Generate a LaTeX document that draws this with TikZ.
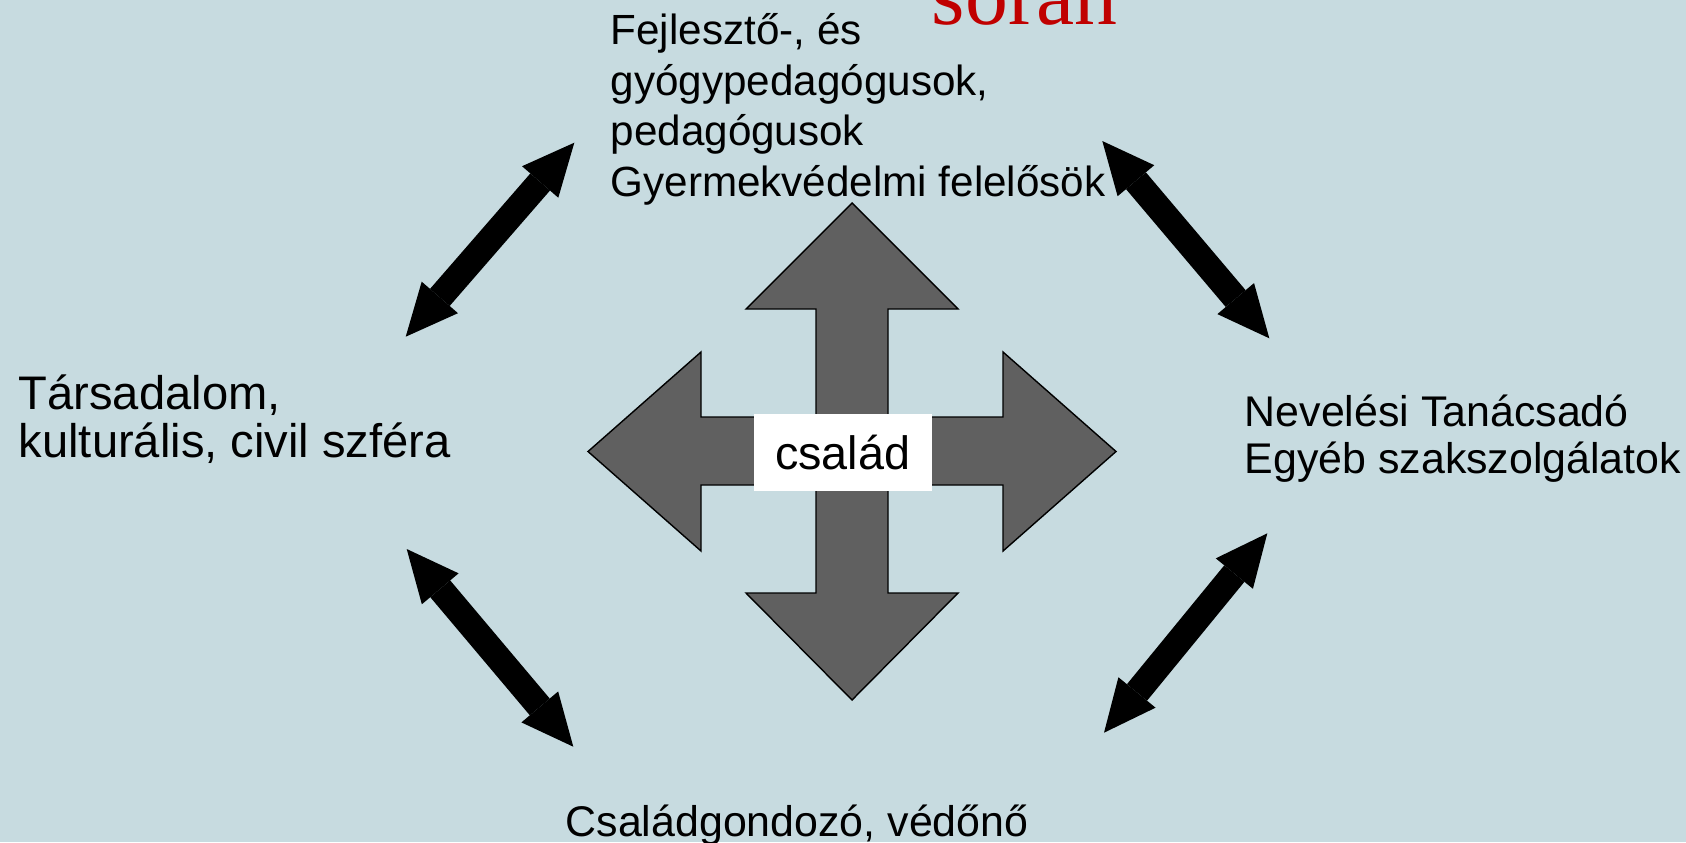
\documentclass[tikz,border=0pt]{standalone}
\usepackage{fontspec}
\setmainfont{Liberation Sans}
\newfontfamily\cimbetu{Liberation Serif}
\usepackage{tikz}
\usetikzlibrary{arrows.meta}
\definecolor{hatter}{RGB}{199, 219, 224}
\definecolor{keresztszurke}{RGB}{96, 96, 96}
\definecolor{cimpiros}{RGB}{192, 0, 0}
\tikzset{kettos/.style = {line width = 0.26cm, {Triangle[length = 0.52cm, width = 0.48cm, line width = 0pt]}-{Triangle[length = 0.52cm, width = 0.48cm, line width = 0pt]}}}
\tikzset{felirat/.style = {anchor = base west, inner sep = 0pt, align = left}}

\begin{document}
\begin{tikzpicture}[x = 0.01cm, y = -0.01cm]
\clip (0, 0) rectangle (1686, 842);
\fill[hatter] (0, 0) rectangle (1686, 842);
\node[anchor = base west, inner sep = 0pt, text = cimpiros, font = \cimbetu\fontsize{24.4pt}{28pt}\selectfont] (soran) at (931, 24) {során};
\draw[fill = keresztszurke, line width = 0.4pt] (852, 203) -- (958, 309) -- (888, 309) -- (888, 417) -- (1003, 417) -- (1003, 352) -- (1116, 451.5) -- (1003, 551) -- (1003, 485) -- (888, 485) -- (888, 593) -- (958, 593) -- (852, 700) -- (746, 593) -- (816, 593) -- (816, 485) -- (701, 485) -- (701, 551) -- (588, 451.5) -- (701, 352) -- (701, 417) -- (816, 417) -- (816, 309) -- (746, 309) -- cycle;
\node[fill = white, minimum width = 1.78cm, minimum height = 0.767cm, inner sep = 0pt, font = \fontsize{13.3pt}{15pt}\selectfont] (csalad) at (842.7, 452.7) {család};
\node[felirat, font = \fontsize{12pt}{14.45pt}\selectfont] (fejleszto) at (610, 196.7) {Fejlesztő-, és\\ gyógypedagógusok,\\ pedagógusok\\ Gyermekvédelmi felelősök};
\node[felirat, font = \fontsize{13.4pt}{13.4pt}\selectfont] (tarsadalom) at (18, 457) {Társadalom,\\ kulturális, civil szféra};
\node[felirat, font = \fontsize{12.2pt}{13.3pt}\selectfont] (nevelesi) at (1244, 473) {Nevelési Tanácsadó\\ Egyéb szakszolgálatok};
\node[felirat, font = \fontsize{12.2pt}{13.3pt}\selectfont] (csaladgondozo) at (565, 836.7) {Családgondozó, védőnő};
\coordinate (tars-fel) at (405.7, 336.7);
\coordinate (fejl-bal) at (574.3, 142.7);
\coordinate (fejl-jobb) at (1102.3, 141);
\coordinate (nev-fel) at (1269.3, 338.3);
\coordinate (tars-le) at (406.7, 549);
\coordinate (csgond-bal) at (573.3, 746.7);
\coordinate (csgond-jobb) at (1104, 732.7);
\coordinate (nev-le) at (1267.3, 533.3);
\draw[kettos] (tars-fel) -- (fejl-bal);
\draw[kettos] (fejl-jobb) -- (nev-fel);
\draw[kettos] (tars-le) -- (csgond-bal);
\draw[kettos] (csgond-jobb) -- (nev-le);
\end{tikzpicture}
\end{document}
